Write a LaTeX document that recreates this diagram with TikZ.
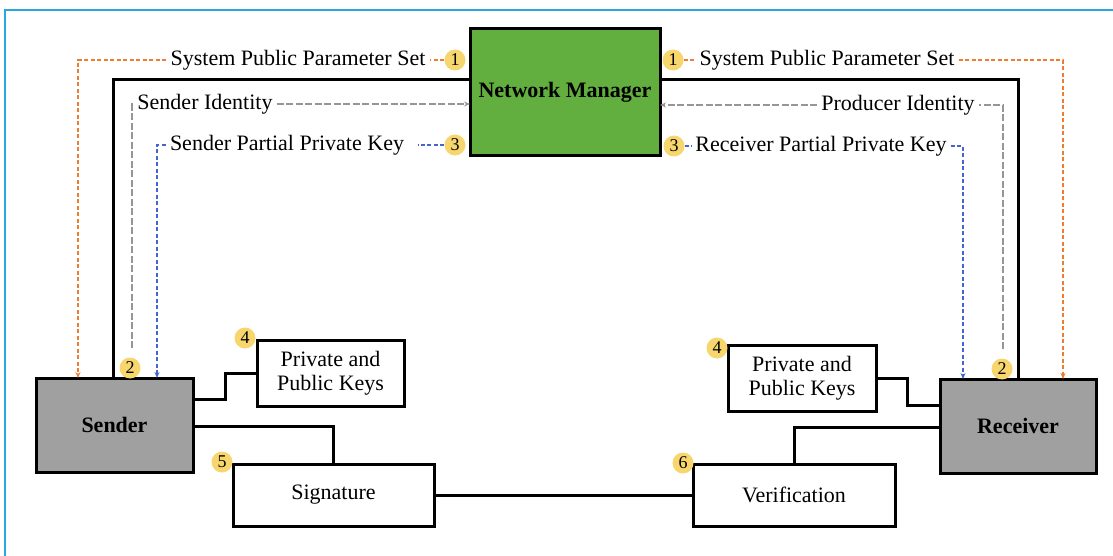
\documentclass[tikz,border=0pt]{standalone}
\usepackage{fontspec}
\setmainfont{Liberation Serif}
\usetikzlibrary{arrows.meta,calc}
\definecolor{frameblue}{RGB}{41,168,224}
\definecolor{nmgreen}{RGB}{98,174,62}
\definecolor{boxgray}{RGB}{160,160,160}
\definecolor{orangeD}{RGB}{237,125,49}
\definecolor{grayD}{RGB}{150,150,150}
\definecolor{blueD}{RGB}{68,100,210}
\definecolor{badgeY}{RGB}{247,214,110}
\tikzset{
  box/.style={draw=black,line width=3pt,inner sep=0pt,outer sep=0pt,align=center,
    font=\fontsize{22}{24}\selectfont},
  entity/.style={box,fill=boxgray,font=\fontsize{22}{24}\selectfont\bfseries},
  lbl/.style={inner sep=4pt,font=\fontsize{22}{24}\selectfont},
  badge/.style={circle,fill=badgeY,inner sep=0pt,minimum size=21pt,
    font=\fontsize{18}{18}\selectfont},
  conn/.style={draw=black,line width=3pt},
  tip/.style={-{Stealth[length=6pt,width=5pt]}},
  orangedash/.style={draw=orangeD,line width=1.8pt,dash pattern=on 4pt off 2.5pt},
  graydash/.style={draw=grayD,line width=1.6pt,dash pattern=on 7pt off 2.5pt},
  bluedash/.style={draw=blueD,line width=1.8pt,dash pattern=on 4pt off 2.5pt},
}
\begin{document}
\begin{tikzpicture}[x=1pt,y=-1pt]
\useasboundingbox (0,0) rectangle (1113,556);
\draw[frameblue,line width=2pt] (5,600) -- (5,10) -- (1130,10);

% main boxes
\node[box,fill=nmgreen,minimum width=190pt,minimum height=127pt,font=\fontsize{22}{24}\selectfont\bfseries] (nm) at (565,92.5) {Network Manager};
\node[entity,minimum width=157pt,minimum height=94pt] (sender) at (114.5,425) {Sender};
\node[entity,minimum width=156pt,minimum height=94pt] (receiver) at (1018,426) {Receiver};
\node[box,minimum width=147pt,minimum height=66pt] (ppkL) at (330.5,373) {Private and\\Public Keys};
\node[box,minimum width=148pt,minimum height=66pt] (ppkR) at (802,378) {Private and\\Public Keys};
\node[box,minimum width=201pt,minimum height=62pt] (sig) at (333.5,495) {Signature};
\node[box,minimum width=202pt,minimum height=62pt] (ver) at (794,495) {Verification};

% labels
\node[lbl] (t1L) at (298,60) {System Public Parameter Set};
\node[lbl] (t1R) at (827,60) {System Public Parameter Set};
\node[lbl] (sid) at (205,104) {Sender Identity};
\node[lbl] (pid) at (898,105) {Producer Identity};
\node[lbl] (spk) at (287,145) {Sender Partial Private Key};
\node[lbl] (rpk) at (821,146) {Receiver Partial Private Key};

% badges
\node[badge] (b1L) at (455,60) {1};
\node[badge] (b1R) at (673,60) {1};
\node[badge] (b3L) at (455,145) {3};
\node[badge] (b3R) at (674,146) {3};
\node[badge] (b2L) at (130,368) {2};
\node[badge] (b2R) at (1002,369) {2};
\node[badge] (b4L) at (245,338) {4};
\node[badge] (b4R) at (717,348) {4};
\node[badge] (b5) at (222,462) {5};
\node[badge] (b6) at (683,463) {6};

% helper coordinates
\coordinate (kL) at (113,80);
\coordinate (kR) at (1018,80);
\coordinate (oL) at (78,0);
\coordinate (oR) at (1063,0);
\coordinate (bL) at (157,0);
\coordinate (bR) at (963,0);
\coordinate (gL) at (132,0);
\coordinate (gR) at (1003,0);

% black connectors
\draw[conn] (nm.west |- kL) -| (sender.north -| kL);
\draw[conn] (nm.east |- kR) -| (receiver.north);
\draw[conn] ([yshift=-21pt]sender.north east) -- ++(32,0) |- (ppkL.west);
\draw[conn] ([yshift=-48pt]sender.north east) -| (sig.north);
\draw[conn] (sig.east) -- (ver.west);
\draw[conn] ([yshift=-48pt]receiver.north west) -| (ver.north);
\draw[conn] (ppkR.east) -- ++(31,0) |- ([yshift=-26pt]receiver.north west);

% orange dashed
\draw[orangedash] (b1L.west) -- (t1L.east);
\draw[orangedash,tip] (t1L.west) -| (sender.north -| oL);
\draw[orangedash] (b1R.east) -- (t1R.west);
\draw[orangedash,tip] (t1R.east) -| (receiver.north -| oR);

% gray dashed
\draw[graydash] ([yshift=9pt]b2L.north -| gL) -- (gL |- sid.west) -- (sid.west);
\draw[graydash,tip] (sid.east) -- (nm.west |- sid.east);
\draw[graydash] ([yshift=9pt]b2R.north -| gR) -- (gR |- pid.east) -- (pid.east);
\draw[graydash,tip] (pid.west) -- (nm.east |- pid.west);

% blue dashed
\draw[bluedash] (b3L.west) -- ([xshift=10pt]spk.east);
\draw[bluedash,tip] (spk.west) -| (sender.north -| bL);
\draw[bluedash] (b3R.east) -- (rpk.west);
\draw[bluedash,tip] (rpk.east) -| (receiver.north -| bR);
\end{tikzpicture}
\end{document}
